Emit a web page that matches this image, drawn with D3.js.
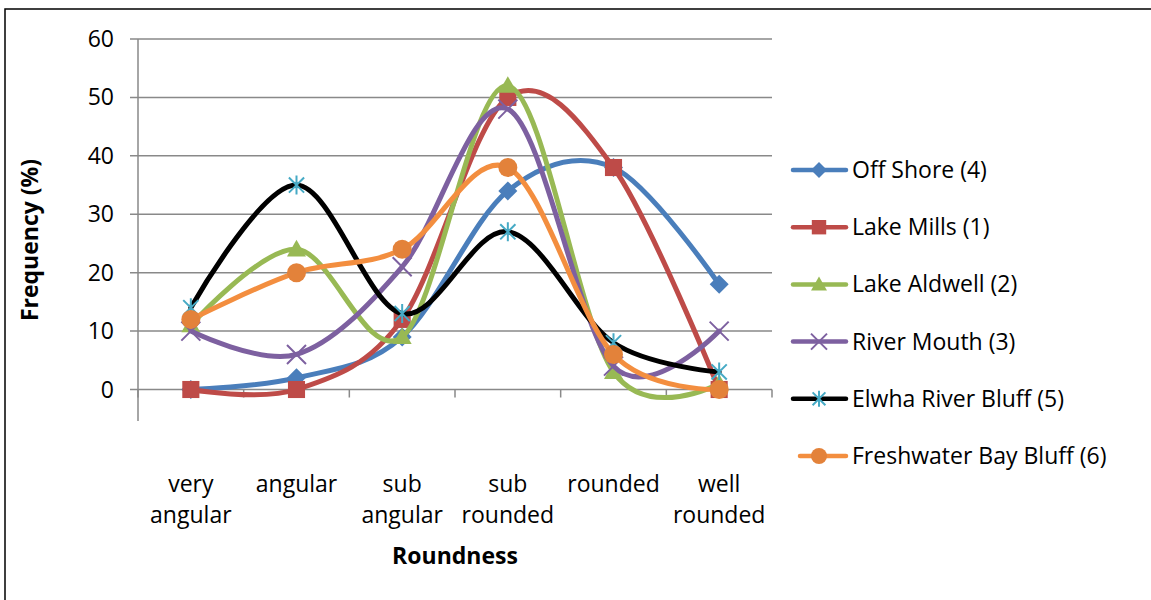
<!DOCTYPE html>
<html>
<head>
<meta charset="utf-8">
<script src="https://cdnjs.cloudflare.com/ajax/libs/d3/7.8.5/d3.min.js"></script>
<style>
  body { margin: 0; background: #fff; }
  text { font-family: "Open Sans", Lato, sans-serif; fill: #000; }
</style>
</head>
<body>
<svg id="chart"></svg>
<script>
var categories = [["very", "angular"], ["angular"], ["sub", "angular"], ["sub", "rounded"], ["rounded"], ["well", "rounded"]];
var yTicks = [0, 10, 20, 30, 40, 50, 60];

var offShore = [0, 2, 9, 34, 38, 18];
var lakeMills = [0, 0, 12, 50, 38, 0];
var lakeAldwell = [11, 24, 9, 52, 3, 1];
var riverMouth = [10, 6, 21, 48, 4, 10];
var elwhaBluff = [14, 35, 13, 27, 8, 3];
var freshwaterBluff = [12, 20, 24, 38, 6, 0];

var seriesNames = ["Off Shore (4)", "Lake Mills (1)", "Lake Aldwell (2)", "River Mouth (3)", "Elwha River Bluff (5)", "Freshwater Bay Bluff (6)"];

var series = [
    {name: seriesNames[0], values: offShore, line: "#4a7ebb", mark: "#4a7ebb", shape: "diamond"},
    {name: seriesNames[1], values: lakeMills, line: "#be4b48", mark: "#be4b48", shape: "square"},
    {name: seriesNames[2], values: lakeAldwell, line: "#98b954", mark: "#98b954", shape: "triangle"},
    {name: seriesNames[3], values: riverMouth, line: "#7d60a0", mark: "#7d60a0", shape: "x"},
    {name: seriesNames[4], values: elwhaBluff, line: "#000000", mark: "#46aac5", shape: "star"},
    {name: seriesNames[5], values: freshwaterBluff, line: "#f38e3f", mark: "#e3823a", shape: "circle"}
];

var W = 1151, H = 600;
var fontSize = "23px";
var svg = d3.select("#chart").attr("width", W).attr("height", H);

// outer frame (right/bottom edges run off the picture)
svg.append("rect")
    .attr("x", 5).attr("y", 9)
    .attr("width", W).attr("height", H)
    .attr("fill", "none").attr("stroke", "#000").attr("stroke-width", 1.5);

var plotLeft = 138, plotRight = 772, plotTop = 39, zeroY = 389.5;

var x = d3.scaleBand()
    .domain(d3.range(categories.length))
    .range([plotLeft, plotRight]);

var y = d3.scaleLinear()
    .domain([0, 60])
    .range([zeroY, plotTop]);

// gridlines
svg.append("g").selectAll("line")
    .data(yTicks)
    .enter().append("line")
    .attr("x1", plotLeft - 8).attr("x2", plotRight)
    .attr("y1", d => y(d)).attr("y2", d => y(d))
    .attr("stroke", "#898989").attr("stroke-width", 1.5);

// value axis line
svg.append("line")
    .attr("x1", plotLeft).attr("x2", plotLeft)
    .attr("y1", plotTop).attr("y2", 421)
    .attr("stroke", "#898989").attr("stroke-width", 1.5);

svg.append("g").selectAll("text")
    .data(yTicks)
    .enter().append("text")
    .attr("x", 114).attr("y", d => y(d))
    .attr("dy", "0.35em")
    .attr("text-anchor", "end")
    .style("font-size", fontSize)
    .text(d => d);

// category tick marks
svg.append("g").selectAll("line")
    .data(d3.range(categories.length + 1))
    .enter().append("line")
    .attr("x1", d => plotLeft + d * x.step()).attr("x2", d => plotLeft + d * x.step())
    .attr("y1", zeroY).attr("y2", zeroY + 8)
    .attr("stroke", "#898989").attr("stroke-width", 1.5);

var catLabels = svg.append("g").selectAll("text")
    .data(categories)
    .enter().append("text")
    .attr("text-anchor", "middle")
    .style("font-size", fontSize);
catLabels.each(function(lines, i) {
    var t = d3.select(this);
    lines.forEach(function(s, j) {
        t.append("tspan")
            .attr("x", x(i) + x.bandwidth() / 2)
            .attr("y", 492 + j * 31)
            .text(s);
    });
});

svg.append("text")
    .attr("x", 455).attr("y", 564)
    .attr("text-anchor", "middle")
    .style("font-size", fontSize).style("font-weight", "bold")
    .text("Roundness");

svg.append("text")
    .attr("transform", "translate(38,240) rotate(-90)")
    .attr("text-anchor", "middle")
    .style("font-size", fontSize).style("font-weight", "bold")
    .text("Frequency (%)");

function drawMarker(g, s, size) {
    var r = size / 2;
    if (s.shape === "diamond") {
        g.append("path").attr("d", "M0," + (-r) + "L" + r + ",0L0," + r + "L" + (-r) + ",0Z").attr("fill", s.mark);
    } else if (s.shape === "square") {
        g.append("rect").attr("x", -r * 0.9).attr("y", -r * 0.9).attr("width", size * 0.9).attr("height", size * 0.9).attr("fill", s.mark);
    } else if (s.shape === "triangle") {
        g.append("path").attr("d", "M0," + (-r) + "L" + r + "," + (r * 0.75) + "L" + (-r) + "," + (r * 0.75) + "Z").attr("fill", s.mark);
    } else if (s.shape === "circle") {
        g.append("circle").attr("r", r).attr("fill", s.mark);
    } else if (s.shape === "x") {
        g.append("path").attr("d", "M" + (-r) + "," + (-r) + "L" + r + "," + r + "M" + (-r) + "," + r + "L" + r + "," + (-r))
            .attr("stroke", s.mark).attr("stroke-width", 2).attr("fill", "none");
    } else if (s.shape === "star") {
        g.append("path").attr("d", "M" + (-r * 0.8) + "," + (-r * 0.8) + "L" + (r * 0.8) + "," + (r * 0.8) + "M" + (-r * 0.8) + "," + (r * 0.8) + "L" + (r * 0.8) + "," + (-r * 0.8) + "M0," + (-r) + "L0," + r)
            .attr("stroke", s.mark).attr("stroke-width", 2).attr("fill", "none");
    }
}

var line = d3.line()
    .x((d, i) => x(i) + x.bandwidth() / 2)
    .y(d => y(d))
    .curve(d3.curveCardinal.tension(0));

series.forEach(function(s) {
    var g = svg.append("g");
    g.append("path")
        .datum(s.values)
        .attr("d", line)
        .attr("fill", "none")
        .attr("stroke", s.line)
        .attr("stroke-width", 5)
        .attr("stroke-linecap", "round");
    s.values.forEach(function(v, i) {
        var m = g.append("g").attr("transform", "translate(" + (x(i) + x.bandwidth() / 2) + "," + y(v) + ")");
        drawMarker(m, s, 19);
    });
});

// legend
var legend = svg.append("g").selectAll("g")
    .data(series)
    .enter().append("g")
    .attr("transform", (d, i) => "translate(0," + (170 + i * 57.2) + ")");

legend.append("line")
    .attr("x1", (d, i) => i === 5 ? 800 : 793).attr("x2", 846)
    .attr("stroke", d => d.line).attr("stroke-width", 4.5)
    .attr("stroke-linecap", "round");
legend.each(function(d, i) {
    var m = d3.select(this).append("g").attr("transform", "translate(819,0)");
    drawMarker(m, d, 16);
});
legend.append("text")
    .attr("x", 852).attr("dy", "0.35em")
    .style("font-size", fontSize)
    .text(d => d.name);
</script>
</body>
</html>
